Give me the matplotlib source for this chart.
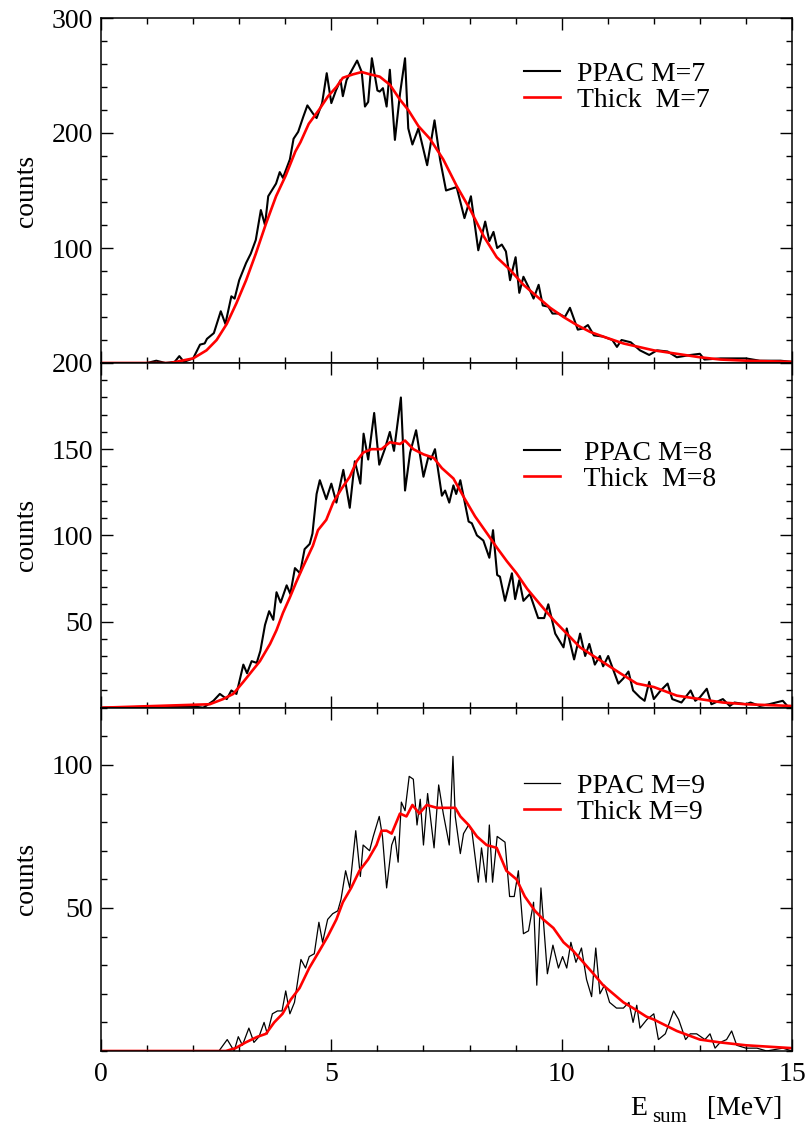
"""
E_sum spectra for gamma multiplicity M=7, 8, 9: PPAC-gated data vs thick-target.
Three stacked panels sharing the energy axis.
"""
import matplotlib

matplotlib.use("Agg")
import matplotlib.pyplot as plt
from matplotlib.ticker import MultipleLocator, FixedLocator, NullFormatter

plt.rcParams["font.family"] = ["Liberation Serif", "DejaVu Serif"]

# ---------- M=7 ----------
e_ppac7 = [0.0, 1.0, 1.2, 1.4, 1.6, 1.7, 1.8, 2.0, 2.15, 2.25,
           2.3, 2.45, 2.6, 2.7, 2.83, 2.9, 3.0, 3.15, 3.25, 3.36,
           3.47, 3.56, 3.63, 3.8, 3.88, 3.95, 4.1, 4.18, 4.28, 4.39,
           4.48, 4.6, 4.68, 4.8, 4.9, 5.0, 5.1, 5.2, 5.25, 5.33,
           5.45, 5.56, 5.66, 5.73, 5.8, 5.88, 6.0, 6.05, 6.12, 6.2,
           6.27, 6.38, 6.49, 6.6, 6.67, 6.76, 6.89, 7.08, 7.24, 7.36,
           7.49, 7.72, 7.89, 8.03, 8.19, 8.34, 8.43, 8.52, 8.6, 8.7,
           8.79, 8.88, 9.0, 9.08, 9.17, 9.28, 9.39, 9.5, 9.59, 9.71,
           9.8, 9.93, 10.07, 10.18, 10.35, 10.46, 10.57, 10.7, 10.9, 11.1,
           11.2, 11.3, 11.5, 11.7, 11.9, 12.07, 12.3, 12.5, 12.8, 13.0,
           13.1, 13.45, 13.7, 14.0, 14.3, 14.75, 15.0]
c_ppac7 = [0, 0, 2, 0, 1, 6, 1, 4, 16, 17,
           21, 26, 45, 34, 58, 56, 72, 87, 95, 107,
           133, 120, 145, 156, 166, 161, 177, 195, 201, 214,
           224, 217, 213, 226, 252, 226, 237, 246, 232, 246,
           255, 263, 253, 223, 227, 265, 237, 236, 239, 223,
           255, 194, 234, 265, 204, 190, 204, 172, 211, 177,
           150, 153, 126, 145, 98, 123, 106, 114, 100, 103,
           97, 72, 92, 61, 75, 66, 56, 68, 50, 49,
           43, 43, 40, 48, 29, 30, 33, 24, 23, 20,
           14, 20, 18, 11, 7, 11, 10, 5, 7, 8,
           3, 4, 4, 4, 2, 2, 1]
e_thick7 = [0, 1.5, 2.0, 2.29, 2.51, 2.73, 2.94, 3.15, 3.36, 3.58,
            3.8, 4.01, 4.12, 4.22, 4.33, 4.51, 4.73, 4.93, 5.11, 5.25,
            5.47, 5.66, 5.84, 6.05, 6.27, 6.49, 6.67, 6.89, 7.14, 7.43,
            7.72, 8.02, 8.31, 8.59, 8.88, 9.17, 9.46, 9.75, 10.04, 10.33,
            10.62, 10.9, 11.34, 12.0, 12.5, 13.0, 13.45, 14.0, 15.0]
c_thick7 = [0, 0, 4, 11, 20, 34, 52, 72, 95, 121,
            145, 163, 174, 184, 192, 208, 220, 232, 240, 248,
            251, 253, 251, 249, 242, 229, 220, 206, 195, 177,
            154, 133, 110, 92, 81, 68, 58, 48, 40, 33,
            27, 23, 17, 11, 8, 5, 3, 2, 1]

# ---------- M=8 ----------
e_ppac8 = [0, 1.93, 2.22, 2.44, 2.58, 2.73, 2.83, 2.94, 3.09, 3.17,
           3.27, 3.38, 3.46, 3.56, 3.65, 3.74, 3.81, 3.9, 4.03, 4.11,
           4.21, 4.32, 4.42, 4.53, 4.59, 4.68, 4.75, 4.89, 5.0, 5.11,
           5.26, 5.4, 5.51, 5.63, 5.7, 5.8, 5.93, 6.04, 6.16, 6.27,
           6.36, 6.51, 6.6, 6.71, 6.84, 7.0, 7.11, 7.16, 7.25, 7.4,
           7.47, 7.56, 7.65, 7.71, 7.8, 7.98, 8.05, 8.16, 8.3, 8.43,
           8.51, 8.6, 8.66, 8.77, 8.92, 8.99, 9.08, 9.17, 9.31, 9.49,
           9.62, 9.71, 9.86, 10.04, 10.11, 10.27, 10.4, 10.51, 10.6, 10.72,
           10.83, 10.9, 11.01, 11.12, 11.23, 11.34, 11.45, 11.55, 11.7, 11.8,
           11.9, 12.0, 12.15, 12.3, 12.4, 12.6, 12.8, 12.9, 13.0, 13.15,
           13.25, 13.5, 13.65, 13.75, 14.0, 14.1, 14.3, 14.5, 14.8, 14.9,
           15.0]
c_ppac8 = [0, 1, 0, 4, 8, 5, 10, 8, 25, 20,
           27, 26, 33, 48, 56, 51, 67, 61, 71, 66,
           81, 78, 92, 95, 101, 124, 132, 121, 130, 119,
           138, 116, 143, 130, 159, 144, 171, 141, 150, 160,
           149, 180, 126, 148, 161, 134, 146, 144, 150, 123,
           126, 119, 129, 124, 132, 108, 107, 100, 97, 87,
           103, 77, 76, 62, 78, 63, 74, 62, 66, 52,
           52, 60, 43, 35, 46, 28, 43, 30, 37, 25,
           30, 24, 30, 22, 14, 17, 21, 10, 6, 4,
           15, 5, 10, 14, 5, 3, 10, 4, 6, 11,
           2, 5, 1, 3, 2, 3, 1, 2, 4, 1,
           0]
e_thick8 = [0, 2.36, 2.65, 2.87, 3.09, 3.3, 3.45, 3.67, 3.81, 3.95,
            4.1, 4.24, 4.39, 4.6, 4.71, 4.89, 5.04, 5.22, 5.4, 5.55,
            5.69, 5.87, 6.09, 6.27, 6.49, 6.6, 6.78, 7.0, 7.22, 7.4,
            7.65, 7.9, 8.12, 8.41, 8.59, 8.81, 9.02, 9.25, 9.53, 9.82,
            10.11, 10.4, 10.69, 10.98, 11.27, 11.63, 12.0, 12.5, 13.0, 13.5,
            14.0, 15.0]
c_thick8 = [0, 2, 5, 8, 15, 22, 27, 37, 45, 55,
            64, 73, 82, 94, 103, 109, 119, 127, 134, 143,
            148, 150, 150, 154, 153, 155, 150, 147, 145, 139,
            133, 121, 111, 100, 93, 85, 78, 69, 60, 51,
            43, 35, 30, 25, 20, 14, 12, 7, 5, 3,
            2, 1]

# ---------- M=9 ----------
e_ppac9 = [0, 2.12, 2.56, 2.74, 2.89, 2.98, 3.07, 3.21, 3.32, 3.43,
           3.54, 3.61, 3.72, 3.83, 3.93, 4.01, 4.1, 4.2, 4.34, 4.44,
           4.52, 4.63, 4.73, 4.81, 4.92, 5.03, 5.14, 5.21, 5.31, 5.4,
           5.53, 5.63, 5.69, 5.83, 5.91, 6.04, 6.11, 6.2, 6.31, 6.38,
           6.45, 6.52, 6.6, 6.69, 6.78, 6.86, 6.93, 7.0, 7.09, 7.23,
           7.33, 7.43, 7.56, 7.64, 7.69, 7.8, 7.87, 7.98, 8.05, 8.19,
           8.26, 8.36, 8.43, 8.5, 8.6, 8.77, 8.87, 8.97, 9.06, 9.17,
           9.28, 9.39, 9.46, 9.55, 9.69, 9.81, 9.93, 10.02, 10.11, 10.2,
           10.31, 10.43, 10.54, 10.65, 10.74, 10.83, 10.93, 11.04, 11.19, 11.34,
           11.46, 11.55, 11.63, 11.7, 11.85, 12.0, 12.1, 12.25, 12.43, 12.54,
           12.69, 12.79, 12.93, 13.11, 13.22, 13.33, 13.44, 13.58, 13.69, 13.8,
           14.0, 14.24, 14.45, 14.8, 15.0]
c_ppac9 = [0, 0, 0, 4, 0, 5, 2, 8, 3, 5,
           10, 6, 13, 14, 14, 21, 13, 17, 32, 29,
           33, 34, 45, 38, 46, 48, 49, 53, 63, 57,
           77, 61, 72, 70, 75, 82, 75, 57, 72, 75,
           66, 87, 84, 96, 95, 79, 88, 72, 90, 71,
           93, 83, 72, 103, 82, 69, 76, 79, 77, 59,
           71, 59, 79, 59, 75, 73, 54, 54, 63, 41,
           42, 52, 23, 57, 27, 37, 29, 33, 29, 38,
           31, 36, 25, 19, 36, 20, 23, 17, 15, 15,
           17, 10, 16, 8, 11, 13, 4, 6, 14, 11,
           4, 6, 6, 4, 6, 1, 3, 4, 7, 2,
           1, 1, 0, 1, 0]
e_thick9 = [0, 2.71, 2.92, 3.14, 3.4, 3.58, 3.76, 3.94, 4.12, 4.31,
            4.52, 4.74, 4.92, 5.11, 5.25, 5.43, 5.61, 5.8, 5.98, 6.09,
            6.2, 6.31, 6.49, 6.63, 6.76, 6.91, 7.07, 7.29, 7.51, 7.69,
            7.8, 7.98, 8.16, 8.37, 8.59, 8.8, 9.02, 9.2, 9.42, 9.6,
            9.82, 10.04, 10.25, 10.47, 10.69, 10.9, 11.12, 11.34, 11.55, 11.84,
            12.0, 12.5, 13.0, 13.44, 14.0, 15.0]
c_thick9 = [0, 0, 1, 3, 5, 6, 10, 13, 18, 22,
            29, 35, 40, 46, 52, 57, 63, 67, 72, 77,
            77, 76, 83, 82, 86, 83, 86, 85, 85, 85,
            82, 79, 75, 72, 71, 63, 60, 54, 49, 46,
            43, 38, 35, 31, 27, 23, 20, 17, 15, 12,
            11, 7, 4, 3, 2, 1]

labels7 = ["PPAC M=7", "Thick  M=7"]
labels8 = [" PPAC M=8", " Thick  M=8"]
labels9 = ["PPAC M=9", "Thick M=9"]


def main() -> None:
    W, H = 808, 1128
    fig = plt.figure(figsize=(W / 100, H / 100), dpi=100)
    left, right = 101 / W, 792 / W
    # panel edges in pixels from the top: 18 | 363 | 707.7 | 1051
    edges = [18, 363, 707.7, 1051]

    panels = [
        (e_ppac7, c_ppac7, e_thick7, c_thick7, labels7, 300, [100, 200, 300], 20, 1.5, 0.80),
        (e_ppac8, c_ppac8, e_thick8, c_thick8, labels8, 200, [50, 100, 150, 200], 10, 1.5, 0.70),
        (e_ppac9, c_ppac9, e_thick9, c_thick9, labels9, 120, [50, 100], 10, 0.9, 0.733),
    ]

    for i, (eb, cb, er, cr, labs, ymax, yt, ymin_step, lwb, leg_y) in enumerate(panels):
        top_px, bot_px = edges[i], edges[i + 1]
        ax = fig.add_axes([left, 1 - bot_px / H, right - left, (bot_px - top_px) / H])
        ax.plot(eb, cb, color="black", lw=lwb, label=labs[0])
        ax.plot(er, cr, color="#ff0000", lw=1.9, label=labs[1])
        ax.set_xlim(0, 15)
        ax.set_ylim(0, ymax)

        ax.xaxis.set_major_locator(MultipleLocator(5))
        ax.xaxis.set_minor_locator(MultipleLocator(1))
        ax.yaxis.set_major_locator(FixedLocator(yt))
        ax.yaxis.set_minor_locator(MultipleLocator(ymin_step))
        ax.tick_params(which="both", direction="in", top=True, right=True,
                       width=1.0, labelsize=20)
        ax.tick_params(which="major", length=8.5, pad=6)
        ax.tick_params(which="minor", length=4.5)
        if i < 2:
            ax.xaxis.set_major_formatter(NullFormatter())
        else:
            ax.tick_params(axis="x", which="major", pad=8)
        for s in ax.spines.values():
            s.set_linewidth(1.1)

        leg = ax.legend(loc="center left", bbox_to_anchor=(0.612, leg_y),
                        frameon=False, fontsize=20, handlelength=1.3,
                        handletextpad=0.6, labelspacing=0.02,
                        borderpad=0, borderaxespad=0)
        for line in leg.get_lines():
            line.set_linewidth(lwb if line.get_color() == "black" else 1.9)

        mid_px = (top_px + bot_px) / 2
        fig.text(26 / W, 1 - mid_px / H, "counts", rotation=90,
                 ha="center", va="center", fontsize=20)

    # x axis label: E_sum [MeV]
    fig.text(630 / W, 1 - 1115 / H, "E", fontsize=20, ha="left", va="baseline")
    fig.text(652 / W, 1 - 1122 / H, "sum", fontsize=15, ha="left", va="baseline")
    fig.text(707 / W, 1 - 1115 / H, "[MeV]", fontsize=20, ha="left", va="baseline")

    fig.savefig("out.png", dpi=100)


if __name__ == "__main__":
    main()
